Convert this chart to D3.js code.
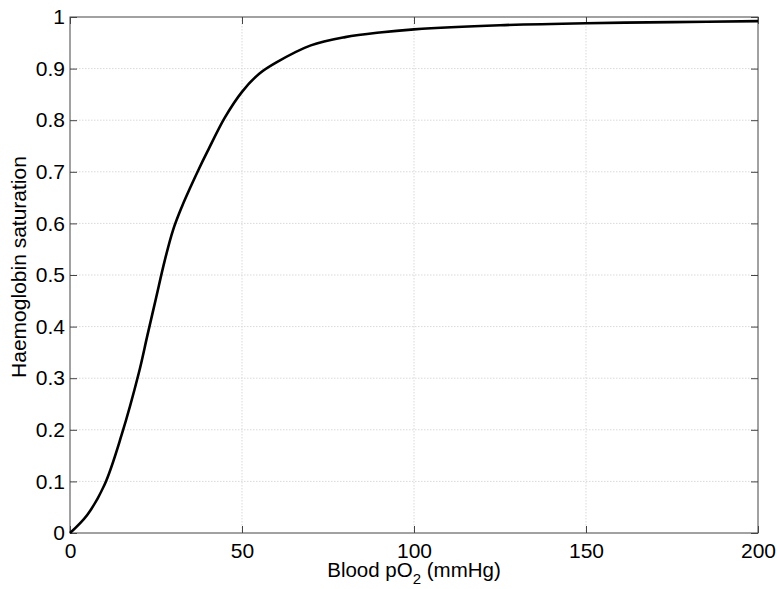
<!DOCTYPE html>
<meta charset="utf-8" />
<head>
  <style>
    body { margin: 0; background: #fff; }
    text { font-family: "Liberation Sans", Arial, sans-serif; fill: #000; }
    .grid line { stroke: #d9d9d9; stroke-dasharray: 1.5, 1.5; stroke-width: 1; }
    .frame { fill: none; stroke: #444; stroke-width: 1; }
    .tick line { stroke: #444; }
  </style>
  <script src="https://cdn.jsdelivr.net/npm/d3@7"></script>
</head>
<body>
<script>
  // blood pO2 (mmHg) and haemoglobin saturation
  var pO2 = [0, 5, 10, 15, 20, 22.5, 25, 27.5, 30, 32.5, 35, 37.5, 40, 45, 50, 55, 60, 70, 80, 90, 100, 125, 150, 175, 200];
  var saturation = [0, 0.035, 0.093, 0.19, 0.31, 0.383, 0.455, 0.527, 0.588, 0.632, 0.67, 0.706, 0.74, 0.805, 0.855, 0.89, 0.912, 0.945, 0.961, 0.970, 0.976, 0.984, 0.988, 0.990, 0.992];
  var xTicks = [0, 50, 100, 150, 200];
  var yTicks = [0, 0.1, 0.2, 0.3, 0.4, 0.5, 0.6, 0.7, 0.8, 0.9, 1];

  var W = 777, H = 589;
  var margin = { top: 17, right: 19, bottom: 56, left: 70 },
    width = W - margin.left - margin.right,
    height = H - margin.top - margin.bottom;

  var x = d3.scaleLinear().domain([0, 200]).range([0, width]);
  var y = d3.scaleLinear().domain([0, 1]).range([height, 0]);

  var svg = d3.select("body").append("svg")
    .attr("width", W).attr("height", H)
    .append("g")
    .attr("transform", "translate(" + margin.left + "," + margin.top + ")");

  // grid
  var grid = svg.append("g").attr("class", "grid");
  grid.selectAll(".gx").data(xTicks.slice(1, -1)).enter().append("line")
    .attr("x1", function(d) { return x(d); }).attr("x2", function(d) { return x(d); })
    .attr("y1", 0).attr("y2", height);
  grid.selectAll(".gy").data(yTicks.slice(1, -1)).enter().append("line")
    .attr("y1", function(d) { return y(d); }).attr("y2", function(d) { return y(d); })
    .attr("x1", 0).attr("x2", width);

  // axes, ticks pointing inwards on all four sides
  var fmt = function(d) { return d3.format("~g")(d); };
  svg.append("g").attr("transform", "translate(0," + height + ")")
    .call(d3.axisBottom(x).tickValues(xTicks).tickFormat(fmt).tickSizeInner(-7).tickSizeOuter(0).tickPadding(10));
  svg.append("g")
    .call(d3.axisTop(x).tickValues(xTicks).tickFormat("").tickSizeInner(-7).tickSizeOuter(0));
  svg.append("g")
    .call(d3.axisLeft(y).tickValues(yTicks).tickFormat(fmt).tickSizeInner(-7).tickSizeOuter(0).tickPadding(5));
  svg.append("g").attr("transform", "translate(" + width + ",0)")
    .call(d3.axisRight(y).tickValues(yTicks).tickFormat("").tickSizeInner(-7).tickSizeOuter(0));
  svg.selectAll(".domain").remove();
  svg.selectAll(".tick text").style("font-size", "21px").attr("font-family", null);

  svg.append("rect").attr("class", "frame")
    .attr("x", 0).attr("y", 0).attr("width", width).attr("height", height);

  // curve
  var pts = pO2.map(function(p, i) { return [p, saturation[i]]; });
  svg.append("path")
    .datum(pts)
    .attr("fill", "none")
    .attr("stroke", "#000")
    .attr("stroke-width", 2.6)
    .attr("d", d3.line()
      .x(function(d) { return x(d[0]); })
      .y(function(d) { return y(d[1]); })
      .curve(d3.curveCatmullRom.alpha(0.5)));

  // labels
  var xl = svg.append("text")
    .attr("x", width / 2).attr("y", height + 44)
    .attr("text-anchor", "middle")
    .style("font-size", "20.5px");
  xl.append("tspan").text("Blood pO");
  xl.append("tspan").attr("dy", 7).style("font-size", "15px").text("2");
  xl.append("tspan").attr("dy", -7).text(" (mmHg)");

  svg.append("text")
    .attr("transform", "translate(" + (26 - margin.left) + "," + (267 - margin.top) + ") rotate(-90)")
    .attr("text-anchor", "middle")
    .style("font-size", "21px")
    .text("Haemoglobin saturation");
</script>
</body>
